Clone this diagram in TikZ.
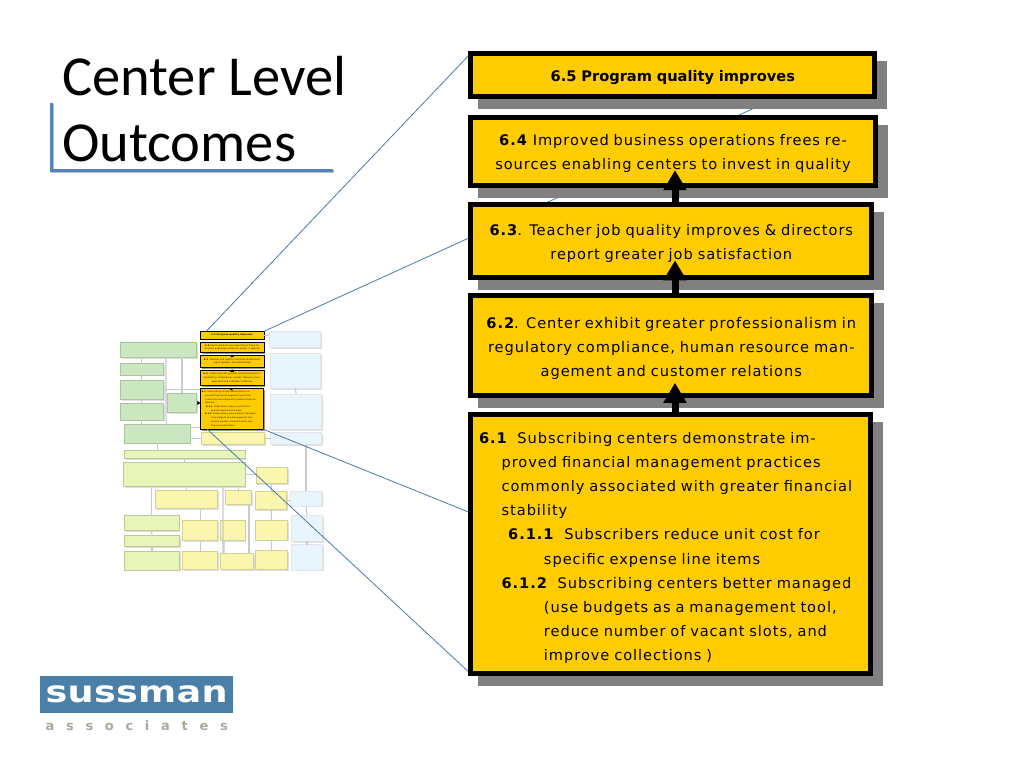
\documentclass[tikz,border=0pt]{standalone}
\usepackage{fontspec}
\setmainfont{Carlito}
\newfontfamily\boxfont[LetterSpace=6.5]{DejaVu Sans}
\newfontfamily\headfont{DejaVu Sans}
\newfontfamily\logofont[FakeStretch=1.22,LetterSpace=1]{DejaVu Sans}
\newfontfamily\logosubfont[LetterSpace=90]{DejaVu Sans}
\usetikzlibrary{shadows,arrows.meta}
\definecolor{boxyellow}{HTML}{FFCC00}
\definecolor{boxshadow}{HTML}{808080}
\definecolor{zoomblue}{HTML}{4A78B0}
\definecolor{accentblue}{HTML}{5482BC}
\definecolor{logoblue}{HTML}{4A80A8}
\definecolor{logogrey}{HTML}{A9A99C}
\definecolor{palegreen}{HTML}{CBE7C0}
\definecolor{paleblue}{HTML}{E9F5FC}
\definecolor{paleyellow}{HTML}{FBF6AE}
\definecolor{palelime}{HTML}{E8F5B8}
\definecolor{thumbgrey}{HTML}{C9C9C9}
\pgfdeclarelayer{thumb}
\pgfdeclarelayer{zoomlines}
\pgfsetlayers{thumb,zoomlines,main}
% texts are shared by the large boxes and the small copies
\newcommand{\txtfive}{\textbf{6.5 Program quality improves}}
\newcommand{\txtfour}{\textbf{6.4} Improved business operations frees re-\\sources enabling centers to invest in quality}
\newcommand{\txtthree}{\textbf{6.3}. Teacher job quality improves \& directors\\report greater job satisfaction}
\newcommand{\txttwo}{\textbf{6.2}. Center exhibit greater professionalism in\\regulatory compliance, human resource man-\\agement and customer relations}
\newcommand{\txtone}{\textbf{6.1}\ \ Subscribing centers demonstrate im-\\
\hspace*{1.55em}proved financial management practices\\
\hspace*{1.55em}commonly associated with greater financial\\
\hspace*{1.55em}stability\\
\hspace*{2em}\textbf{6.1.1}\ \ Subscribers reduce unit cost for\\
\hspace*{4.45em}specific expense line items\\
\hspace*{1.55em}\textbf{6.1.2}\ \ Subscribing centers better managed\\
\hspace*{4.45em}(use budgets as a management tool,\\
\hspace*{4.45em}reduce number of vacant slots, and\\
\hspace*{4.45em}improve collections )}
\tikzset{
  bigbox/.style={draw=black,line width=5pt,fill=boxyellow,text=black,align=center,inner sep=0pt,outer sep=0pt,
    text width=395pt,font=\boxfont\fontsize{14.6}{24.2}\selectfont,
    execute at begin node={\rule{0pt}{16pt}},
    general shadow={shadow xshift=10pt,shadow yshift=-10pt,draw=boxshadow,fill=boxshadow}},
  upflow/.style={line width=7pt,draw=black,-{Triangle[length=20pt,width=22pt]}},
  thumbbox/.style={anchor=north west,inner sep=0pt,outer sep=0pt,
    general shadow={shadow xshift=1.2pt,shadow yshift=-1.2pt,fill=black!13}},
  greenbox/.style={thumbbox,fill=palegreen,draw=palegreen!85!black,line width=.6pt},
  bluebox/.style={thumbbox,fill=paleblue,draw=black!10,line width=.6pt},
  paleybox/.style={thumbbox,fill=paleyellow,draw=paleyellow!85!black,line width=.6pt},
  limebox/.style={thumbbox,fill=palelime,draw=palelime!82!black,line width=.6pt},
  smallbox/.style={anchor=north west,fill=boxyellow,draw=black,line width=1pt,inner sep=0pt,outer sep=0pt,align=center,
    font=\boxfont\fontsize{2.25}{3.6}\selectfont,
    general shadow={shadow xshift=1.2pt,shadow yshift=-1.2pt,fill=black!40}},
  thumbline/.style={draw=thumbgrey,line width=1.1pt},
  smallflow/.style={draw=black,line width=1pt,-{Triangle[length=2.5pt,width=3.5pt]}},
  zoomline/.style={draw=zoomblue,line width=.8pt}
}
\begin{document}
\begin{tikzpicture}[x=1pt,y=-1pt]
    \useasboundingbox (0,0) rectangle (1024,768);
    \node[anchor=base west,align=left,inner sep=0pt,font=\fontsize{56.5}{66}\selectfont] (title) at (62,161) {Center Level\\Outcomes};
    % underline of the title
    \draw[draw=black!25,line width=3.5pt] (52.5,104) -- (52.5,171.5) -- (333.5,171.5);
    \draw[draw=accentblue,line width=3.5pt] (51.3,103) -- (51.3,170.3) -- (332.7,170.3);

    % small copy of the whole chart
    \begin{pgfonlayer}{thumb}
    \foreach \nm/\xa/\ya/\w/\h/\sty in {
      tga/120.3/342/76.4/15.3/greenbox, tgb/120.3/363.7/43/11.3/greenbox,
      tgc/120.3/380.3/43/19/greenbox, tgd/120.3/403.3/43/16.7/greenbox,
      tge/167.3/393.3/29.4/19.4/greenbox, tgf/124.3/424.3/65.7/18.7/greenbox,
      tba/269.3/331.3/51.4/16/bluebox, tbb/270/353.3/50.7/35/bluebox,
      tbc/270.7/394/51/35.3/bluebox, tbd/270.7/432.7/51/12/bluebox,
      ypale/201.3/432.7/63.4/12/paleybox,
      lga/124.3/450.7/120.7/8/limebox, lgb/123.7/462.7/121.3/24/limebox,
      yba/256/467.3/31.3/16/paleybox, ybb/155.3/490.7/62.4/18/paleybox,
      ybc/225.7/490.7/25.6/14/paleybox, ybd/255.7/491/31/18.3/paleybox,
      tsa/290.3/491/31.4/15/bluebox, tsb/291.7/515.7/30.6/25.6/bluebox,
      tsc/291.7/544.7/30.6/25.3/bluebox,
      lha/124.3/515.7/54.7/15/limebox, lhb/124.3/535.7/55.4/11/limebox,
      lhc/124.3/551.3/55.4/18.7/limebox,
      yca/182.7/520.3/35/20.4/paleybox, ycb/182.7/551.3/35/18/paleybox,
      ycc/220.7/520.3/24.3/20.4/paleybox, ycd/220.7/553.3/32.6/16/paleybox,
      yce/255.7/520.3/31.6/19.7/paleybox, ycf/255.7/550.7/31.6/18.6/paleybox}
      \node[\sty,minimum width=\w pt,minimum height=\h pt] (\nm) at (\xa,\ya) {};
    \node[smallbox,minimum width=63.7pt,minimum height=7.7pt] (sfive) at (200.3,331.3) {\txtfive};
    \node[smallbox,minimum width=63.7pt,minimum height=10.7pt] (sfour) at (200.3,342) {\txtfour};
    \node[smallbox,minimum width=63.7pt,minimum height=11.6pt] (sthree) at (200.3,355.7) {\txtthree};
    \node[smallbox,minimum width=63.7pt,minimum height=15.7pt] (stwo) at (200.3,370) {\txttwo};
    \node[smallbox,minimum width=63pt,minimum height=41pt,align=left,text width=60pt,font=\boxfont\fontsize{2.1}{3.7}\selectfont] (sone) at (200.3,388.3) {\txtone};
    \draw[smallflow] (sthree.north) -- ([yshift=-2pt]sfour.south);
    \draw[smallflow] (stwo.north) -- ([yshift=-2pt]sthree.south);
    \draw[smallflow] (sone.north) -- ([yshift=-2pt]stwo.south);
    \draw[thumbline] (tgb.north) -- (tgb.north |- tga.south);
    \draw[thumbline] (tgc.north) -- (tgb.south);
    \draw[thumbline] (tgd.north) -- (tgc.south);
    \draw[thumbline] (tgd.south) -- (tgd.south |- tgf.north);
    \draw[thumbline] (tge.north) -- (tge.north |- tga.south);
    \draw[thumbline] ([xshift=7.5pt]tga.south) -- ([xshift=8.9pt]tgf.north);
    \draw[thumbline] (tgc.east) -- (tgc.east -| sone.west);
    \draw[thumbline,-{Triangle[length=3pt,width=4pt,color=black]}] (tge.east) -- (tge.east -| sone.west);
    \draw[thumbline] ([yshift=6pt]tgf.east) -- ([yshift=6pt]tgf.east -| sone.west);
    \draw[thumbline] (tgf.east |- ypale.west) -- (ypale.west);
    \draw[thumbline] (tbd.west) -- (ypale.east);
    \draw[thumbline] (sfive.east) -- (sfive.east -| tba.west);
    \draw[thumbline] (tbb.south) -- (tbc.north);
    \draw[thumbline] (tsa.north |- tbd.south) -- (tsa.north);
    \draw[thumbline] (tsa.south) -- (tsb.north);
    \draw[thumbline] (tsb.south) -- (tsc.north);
    \draw[thumbline] (tgf.south) -- (tgf.south |- lga.north);
    \draw[thumbline] (lga.south) -- (lgb.north);
    \draw[thumbline] (lgb.east) -- (lgb.east -| yba.west);
    \draw[thumbline] (ybb.north |- lgb.south) -- (ybb.north);
    \draw[thumbline] (lha.north |- lgb.south) -- (lha.north);
    \draw[thumbline] ([xshift=38.6pt]lgb.south) -- ([xshift=-14pt]ycd.north);
    \draw[thumbline] (ybc.north |- lgb.south) -- (ybc.north);
    \draw[thumbline] ([xshift=10.5pt]ybc.south) -- ([xshift=12pt]ycd.north);
    \draw[thumbline] (yba.south) -- (ybd.north);
    \draw[thumbline] (ybd.south) -- (yce.north);
    \draw[thumbline] (yce.south) -- (ycf.north);
    \draw[thumbline] (lha.south) -- (lhb.north);
    \draw[thumbline] (lhb.south) -- (lhc.north);
    \draw[thumbline] (yca.north |- ybb.south) -- (yca.north);
    \draw[thumbline] (yca.south) -- (ycb.north);
    \draw[thumbline] ([xshift=-8.8pt]ycc.south) -- ([xshift=-13pt]ycd.north);
    \draw[thumbline] (ybd.east) -- (ybd.east -| tsa.west);
    \end{pgfonlayer}

    % large boxes
    \node[bigbox,minimum width=404pt,minimum height=43.6pt,font=\headfont\fontsize{14.6}{24.2}\selectfont] (bigfive) at (672.8,75) {\txtfive};
    \node[bigbox,minimum width=404.5pt,minimum height=67.7pt] (bigfour) at (673,151.3) {\txtfour};
    \node[bigbox,minimum width=401pt,minimum height=72.7pt] (bigthree) at (671.3,241) {\txtthree};
    \node[bigbox,minimum width=401pt,minimum height=100pt] (bigtwo) at (671.3,345.8) {\txttwo};
    \node[bigbox,minimum width=399.4pt,minimum height=259.8pt,align=left,text width=383pt,execute at begin node={\rule{0pt}{19pt}}] (bigone) at (670.5,544) {\txtone};

    \draw[upflow] ([xshift=3.7pt]bigthree.north) -- ([xshift=2pt,yshift=15pt]bigfour.south);
    \draw[upflow] ([xshift=3.7pt]bigtwo.north) -- ([xshift=3.7pt,yshift=17pt]bigthree.south);
    \draw[upflow] ([xshift=4.5pt]bigone.north) -- ([xshift=3.7pt,yshift=13pt]bigtwo.south);

    \begin{pgfonlayer}{zoomlines}
    \draw[zoomline] ([xshift=6pt]sfive.north west) -- (bigfive.north west);
    \draw[zoomline] (sfive.north east) -- (bigfive.north east);
    \draw[zoomline] (sone.south east) -- (bigone.south east);
    \draw[zoomline] ([xshift=7pt]sone.south west) -- (bigone.south west);
    \end{pgfonlayer}

    % logo
    \node[anchor=north west,fill=logoblue,minimum width=193pt,minimum height=36.6pt,inner sep=0pt,text=white,font=\logofont\bfseries\fontsize{30}{30}\selectfont] (logo) at (40,675.7) {sussman};
    \node[anchor=north,text=logogrey,inner sep=0pt,font=\logosubfont\bfseries\fontsize{13}{13}\selectfont] (logosub) at ([yshift=-8pt]logo.south) {associates};
\end{tikzpicture}
\end{document}
